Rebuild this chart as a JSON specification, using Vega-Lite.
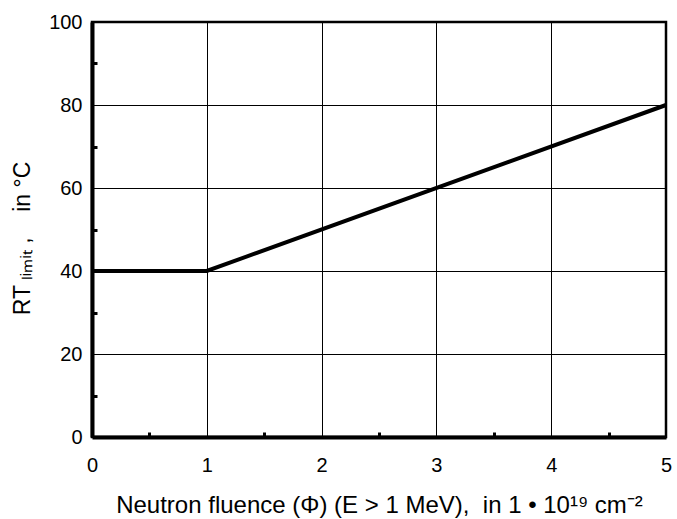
{
  "$schema": "https://vega.github.io/schema/vega-lite/v6.json",
  "width": 574,
  "height": 415,
  "autosize": {"type": "none"},
  "padding": {"left": 92, "top": 22, "right": 11, "bottom": 82},
  "background": "white",
  "config": {
    "view": {"stroke": "black", "strokeWidth": 2.5},
    "font": "Liberation Sans"
  },
  "data": {"values": [
    {"fluence": 0, "rt": 40},
    {"fluence": 1, "rt": 40},
    {"fluence": 5, "rt": 80}
  ]},
  "mark": {"type": "line", "color": "black", "strokeWidth": 4, "clip": true},
  "encoding": {
    "x": {
      "field": "fluence", "type": "quantitative",
      "scale": {"domain": [0, 5], "nice": false, "zero": false},
      "axis": {
        "values": [0, 0.5, 1, 1.5, 2, 2.5, 3, 3.5, 4, 4.5, 5],
        "labelExpr": "datum.value % 1 === 0 ? format(datum.value, 'd') : ''",
        "labelFont": "Liberation Sans", "labelFontSize": 20, "labelColor": "black",
        "labelPadding": 18, "labelFlush": false,
        "grid": true, "gridColor": "black", "gridWidth": 1,
        "gridOpacity": {"condition": {"test": "datum.value % 1 === 0", "value": 1}, "value": 0},
        "domainColor": "black", "domainWidth": 4,
        "tickColor": "black", "tickWidth": 3,
        "tickSize": {"condition": {"test": "datum.value % 1 === 0", "value": 0}, "value": -5},
        "title": "Neutron fluence (Φ) (E > 1 MeV),\u00a0\u00a0in 1 • 10¹⁹ cm⁻²",
        "titleFont": "Liberation Sans", "titleFontSize": 24, "titleFontWeight": "normal",
        "titleColor": "black", "titlePadding": 18
      }
    },
    "y": {
      "field": "rt", "type": "quantitative",
      "scale": {"domain": [0, 100], "nice": false},
      "axis": {
        "values": [0, 10, 20, 30, 40, 50, 60, 70, 80, 90, 100],
        "labelExpr": "datum.value % 20 === 0 ? format(datum.value, 'd') : ''",
        "labelFont": "Liberation Sans", "labelFontSize": 20, "labelColor": "black",
        "labelPadding": 10, "labelFlush": false,
        "grid": true, "gridColor": "black", "gridWidth": 1,
        "gridOpacity": {"condition": {"test": "datum.value % 20 === 0", "value": 1}, "value": 0},
        "domainColor": "black", "domainWidth": 4,
        "tickColor": "black", "tickWidth": 3,
        "tickSize": {"condition": {"test": "datum.value % 20 === 0", "value": 0}, "value": -5},
        "title": "RT\u2009ₗᵢₘᵢₜ\u00a0,\u00a0\u00a0\u00a0\u00a0in °C",
        "titleFont": "Liberation Sans", "titleFontSize": 23, "titleFontWeight": "normal",
        "titleColor": "black", "titlePadding": 14, "titleY": 216
      }
    }
  }
}
